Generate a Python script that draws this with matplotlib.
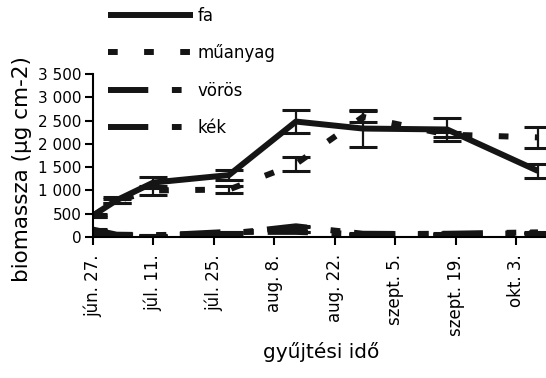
import matplotlib
matplotlib.use("Agg")
import matplotlib.pyplot as plt
from matplotlib.lines import Line2D

plt.rcParams["font.family"] = ["DejaVu Sans"]
plt.rcParams["lines.scale_dashes"] = False

# sampling days counted from jún. 27
days = [0, 5.5, 14, 31.5, 47, 62.5, 82, 103]

fa = [460, 790, 1170, 1330, 2480, 2330, 2310, 1420]
fa_err = [30, 70, 110, 110, 250, 390, 240, 150]

muanyag = [450, 780, 1000, 1020, 1570, 2580, 2200, 2140]
muanyag_err = [20, 40, 90, 80, 150, 120, 50, 220]

voros = [160, 50, 40, 70, 230, 70, 60, 80]
kek = [60, 40, 30, 110, 110, 60, 70, 100]

tick_days = [0, 14, 28, 42, 56, 70, 84, 98]
tick_labels = ["jún. 27.", "júl. 11.", "júl. 25.", "aug. 8.", "aug. 22.",
               "szept. 5.", "szept. 19.", "okt. 3."]

INK = "#151515"
LW = 4.3
SOLID = "-"
SQUARES = (0, (7, 19))
LONG_SQ = (0, (29, 17, 7, 10))

fig = plt.figure(figsize=(5.46, 3.78), dpi=100)
ax = fig.add_axes([0.170, 0.373, 0.835, 0.431])

kw = dict(color=INK, lw=LW, elinewidth=1.6, capsize=10, capthick=2.2,
          solid_capstyle="butt")
ax.errorbar(days, fa, yerr=fa_err, ls=SOLID, **kw)
ax.errorbar(days, muanyag, yerr=muanyag_err, ls=SQUARES, **kw)
ax.errorbar(days, voros, yerr=[8] * len(days), ls=LONG_SQ, **kw)
ax.errorbar(days, kek, yerr=[8] * len(days), ls=LONG_SQ, **kw)

ax.set_xlim(0, 105.5)
ax.set_ylim(0, 3500)
ax.set_yticks(range(0, 3501, 500))
ax.set_yticklabels([f"{v:,}".replace(",", " ") for v in range(0, 3501, 500)],
                   fontsize=11)
ax.set_xticks(tick_days)
ax.set_xticklabels(tick_labels, rotation=90, fontsize=12)
ax.tick_params(axis="x", length=6, width=1.5, pad=6.5, direction="out")
ax.tick_params(axis="y", length=6, width=1.5, pad=2, direction="out")
for side in ("top", "right"):
    ax.spines[side].set_visible(False)
for side in ("left", "bottom"):
    ax.spines[side].set_linewidth(1.5)

ax.set_ylabel("biomassza (µg cm-2)", fontsize=15.5)
ax.yaxis.set_label_coords(-0.133, 0.42)
ax.set_xlabel("gyűjtési idő", fontsize=14.5, labelpad=4)

handles = [Line2D([], [], color=INK, lw=LW, ls=s, solid_capstyle="butt")
           for s in (SOLID, SQUARES, LONG_SQ, LONG_SQ)]
ax.legend(handles, ["fa", "műanyag", "vörös", "kék"],
          loc="upper left", bbox_to_anchor=(108 / 546, 1 - 7 / 378),
          bbox_transform=fig.transFigure, frameon=False, fontsize=12,
          handlelength=5.1, labelspacing=1.16, handletextpad=0.25,
          borderpad=0, borderaxespad=0)

fig.savefig("out.png", dpi=100)
